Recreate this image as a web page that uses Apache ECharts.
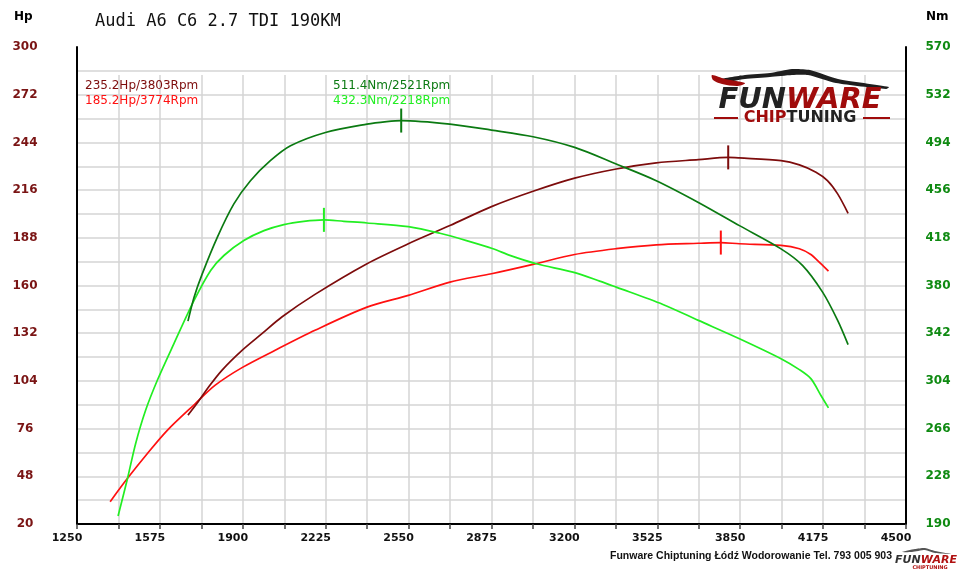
<!DOCTYPE html>
<html>
<head>
<meta charset="utf-8">
<title>Audi A6 C6 2.7 TDI 190KM</title>
<script src="https://cdn.jsdelivr.net/npm/echarts@6/dist/echarts.min.js"></script>
<style>
html, body { margin: 0; padding: 0; background: #fff; }
#chart { width: 960px; height: 575px; }
</style>
</head>
<body>
<div id="chart"></div>
<script>
// 坐标轴范围
const rpmMin = 1250, rpmMax = 4500, rpmStep = 162.5, rpmLabelStep = 325;
const hpMin = 20, hpMax = 300, hpStep = 14, hpLabelStep = 28;
const nmMin = 190, nmMax = 570, nmStep = 38;

// 功率 - 调校后 (Hp)
const rpmHpTuned = [1685, 1720, 1766, 1818, 1897, 1975, 2053, 2183, 2387, 2549, 2712, 2875, 3038, 3201, 3364, 3521, 3686, 3803, 3847, 4010, 4082, 4147, 4192, 4232, 4273];
const hpTuned = [83.9, 90.7, 100.4, 110.2, 121.9, 131.7, 141.5, 154.8, 172.8, 184.5, 195.2, 206.3, 215.3, 223, 228.4, 232, 233.9, 235.2, 234.9, 233.3, 230.8, 226.5, 221.6, 213.8, 202.4];

// 功率 - 原厂 (Hp)
const rpmHpStock = [1380, 1448, 1526, 1604, 1714, 1792, 1897, 2027, 2183, 2387, 2549, 2712, 2875, 3038, 3201, 3364, 3521, 3686, 3774, 3847, 4010, 4082, 4127, 4166, 4196];
const hpStock = [33.1, 46.8, 61.4, 75, 90.7, 101.5, 111.8, 122, 133.7, 147.3, 154.2, 162, 166.9, 172.4, 178.2, 181.6, 183.9, 184.8, 185.2, 184.5, 183.5, 181.6, 178.2, 172.8, 168.4];

// 扭矩 - 调校后 (Nm)
const rpmNmTuned = [1685, 1709, 1741, 1800, 1865, 1930, 2008, 2087, 2224, 2387, 2464, 2521, 2712, 2875, 3038, 3201, 3364, 3521, 3686, 3847, 4010, 4095, 4173, 4232, 4273];
const nmTuned = [351.6, 370.7, 389.3, 418.4, 445, 463.5, 479.4, 491.3, 501.9, 508.6, 510.6, 511.4, 508.6, 503.8, 498.5, 490, 476.8, 463.5, 446.2, 427.7, 409.2, 395.9, 374.7, 352.2, 332.9];

// 扭矩 - 原厂 (Nm)
const rpmNmStock = [1411, 1448, 1480, 1519, 1565, 1630, 1709, 1774, 1826, 1904, 1983, 2061, 2139, 2218, 2296, 2387, 2549, 2673, 2777, 2881, 2947, 3051, 3194, 3299, 3364, 3547, 3686, 3847, 4010, 4082, 4127, 4166, 4196];
const nmStock = [196.4, 226.3, 254.2, 280.6, 304.5, 333.7, 368.1, 392, 403.9, 415.8, 423.7, 428.5, 431.1, 432.3, 431.1, 429.8, 426.9, 421.6, 415.8, 409.3, 404, 397.3, 390.6, 383.5, 378.7, 364.9, 352.2, 337.6, 321.7, 313, 305.8, 292.6, 282.5];

// 峰值 [rpm, 值]
const peakHpTuned = [3803, 235.2];
const peakHpStock = [3774, 185.2];
const peakNmTuned = [2521, 511.4];
const peakNmStock = [2218, 432.3];

const titleText = 'Audi A6 C6 2.7 TDI 190KM';
const footerText = 'Funware Chiptuning Łódź Wodorowanie Tel. 793 005 903';

const colDarkRed = '#7d0c0c';
const colRed = '#ff1010';
const colDarkGreen = '#0b7a12';
const colGreen = '#22ee22';

function lineSeries(name, rpm, vals, color, yAxisIndex, peak) {
    return {
        name: name,
        type: 'line',
        xAxisIndex: 0,
        yAxisIndex: yAxisIndex,
        data: rpm.map((r, i) => [r, vals[i]]),
        smooth: 0.3,
        symbol: 'none',
        lineStyle: { color: color, width: 1.7 },
        markPoint: {
            symbol: 'rect',
            symbolSize: [2, 24],
            silent: true,
            label: { show: false },
            itemStyle: { color: color },
            data: [{ coord: peak }]
        }
    };
}

function peakText(p, unit) {
    return p[1].toFixed(1) + unit + '/' + p[0] + 'Rpm';
}

const chart = echarts.init(document.getElementById('chart'));
const gridLine = { color: '#d5d5d5', width: 1.5 };
const font = 'DejaVu Sans';

chart.setOption({
    animation: false,
    backgroundColor: '#fff',
    grid: [
        { left: 77, right: 54, top: 47, bottom: 51 },
        { left: 77, right: 54, top: 75, bottom: 51 }
    ],
    xAxis: [
        {
            gridIndex: 0,
            type: 'value',
            min: rpmMin, max: rpmMax, interval: rpmStep,
            axisLine: { onZero: false, lineStyle: { color: '#000', width: 2 } },
            axisTick: { show: true, length: 5, lineStyle: { color: '#444', width: 1.5 } },
            axisLabel: {
                formatter: v => ((v - rpmMin) % rpmLabelStep === 0 ? String(v) : ''),
                color: '#111', fontFamily: font, fontWeight: 'bold', fontSize: 11,
                margin: 9, padding: [0, 20, 0, 0]
            },
            splitLine: { show: false }
        },
        {
            gridIndex: 1,
            type: 'value',
            min: rpmMin, max: rpmMax, interval: rpmStep,
            axisLine: { show: false },
            axisTick: { show: false },
            axisLabel: { show: false },
            splitLine: { show: true, showMinLine: false, showMaxLine: false, lineStyle: gridLine }
        }
    ],
    yAxis: [
        {
            gridIndex: 0,
            type: 'value',
            position: 'left',
            min: hpMin, max: hpMax, interval: hpStep,
            axisLine: { show: true, lineStyle: { color: '#000', width: 2 } },
            axisTick: { show: false },
            axisLabel: {
                formatter: v => ((v - hpMin) % hpLabelStep === 0 ? String(v) : ''),
                color: '#7a1414', fontFamily: font, fontWeight: 'bold', fontSize: 12,
                margin: 52, align: 'center'
            },
            splitLine: { show: true, showMinLine: false, showMaxLine: false, lineStyle: gridLine }
        },
        {
            gridIndex: 0,
            type: 'value',
            position: 'right',
            min: nmMin, max: nmMax, interval: nmStep,
            axisLine: { show: true, lineStyle: { color: '#000', width: 2 } },
            axisTick: { show: false },
            axisLabel: {
                color: '#0f8a12', fontFamily: font, fontWeight: 'bold', fontSize: 12,
                margin: 32, align: 'center'
            },
            splitLine: { show: false }
        },
        { gridIndex: 1, type: 'value', show: false, min: 0, max: 1 }
    ],
    series: [
        lineSeries('Hp stock', rpmHpStock, hpStock, colRed, 0, peakHpStock),
        lineSeries('Hp tuned', rpmHpTuned, hpTuned, colDarkRed, 0, peakHpTuned),
        lineSeries('Nm stock', rpmNmStock, nmStock, colGreen, 1, peakNmStock),
        lineSeries('Nm tuned', rpmNmTuned, nmTuned, colDarkGreen, 1, peakNmTuned)
    ],
    graphic: [
        { type: 'text', z: 10, left: 14, top: 11, style: { text: 'Hp', fill: '#000', font: 'bold 12px ' + font } },
        { type: 'text', z: 10, left: 926, top: 11, style: { text: 'Nm', fill: '#000', font: 'bold 12px ' + font } },
        { type: 'text', z: 10, x: 95, y: 22, style: { text: titleText, fill: '#111', font: '17px "DejaVu Sans Mono"', textVerticalAlign: 'middle' } },
        { type: 'text', z: 10, x: 85, y: 86, style: { text: peakText(peakHpTuned, 'Hp'), fill: colDarkRed, font: '12px ' + font, textVerticalAlign: 'middle' } },
        { type: 'text', z: 10, x: 85, y: 101, style: { text: peakText(peakHpStock, 'Hp'), fill: colRed, font: '12px ' + font, textVerticalAlign: 'middle' } },
        { type: 'text', z: 10, x: 333, y: 86, style: { text: peakText(peakNmTuned, 'Nm'), fill: colDarkGreen, font: '12px ' + font, textVerticalAlign: 'middle' } },
        { type: 'text', z: 10, x: 333, y: 101, style: { text: peakText(peakNmStock, 'Nm'), fill: colGreen, font: '12px ' + font, textVerticalAlign: 'middle' } },
        // 标志
        {
            type: 'polygon', z: 10,
            shape: { points: [[716, 80], [745, 75], [770, 73], [792, 69], [810, 70], [838, 79], [889, 87], [886, 89], [836, 83], [808, 75], [792, 75], [770, 77], [745, 79], [720, 83]], smooth: 0.2 },
            style: { fill: '#1e1e1e' }
        },
        {
            type: 'polygon', z: 10,
            shape: { points: [[712, 75], [725, 79], [745, 83], [738, 86], [722, 84], [713, 80]], smooth: 0.3 },
            style: { fill: '#a00c0c' }
        },
        {
            type: 'text', z: 10, x: 800, y: 100,
            style: {
                text: '{a|FUN}{b|WARE}', textAlign: 'center', textVerticalAlign: 'middle',
                rich: {
                    a: { fill: '#222', font: 'italic bold 29px ' + font },
                    b: { fill: '#a00c0c', font: 'italic bold 29px ' + font }
                }
            }
        },
        {
            type: 'text', z: 10, x: 800, y: 118,
            style: {
                text: '{b|CHIP}{a|TUNING}', textAlign: 'center', textVerticalAlign: 'middle',
                rich: {
                    a: { fill: '#222', font: 'bold 16px ' + font },
                    b: { fill: '#a00c0c', font: 'bold 16px ' + font }
                }
            }
        },
        { type: 'line', z: 10, shape: { x1: 714, y1: 118, x2: 738, y2: 118 }, style: { stroke: '#a00c0c', lineWidth: 2 } },
        { type: 'line', z: 10, shape: { x1: 863, y1: 118, x2: 890, y2: 118 }, style: { stroke: '#a00c0c', lineWidth: 2 } },
        // 底部
        { type: 'text', z: 10, x: 892, y: 556, style: { text: footerText, fill: '#111', font: 'bold 10.5px "Liberation Sans"', textAlign: 'right', textVerticalAlign: 'middle' } },
        {
            type: 'polygon', z: 10,
            shape: { points: [[902, 552], [915, 549], [925, 548], [935, 551], [951, 554], [935, 553], [925, 550], [912, 552]], smooth: 0.2 },
            style: { fill: '#555' }
        },
        {
            type: 'text', z: 10, x: 926, y: 560,
            style: {
                text: '{a|FUN}{b|WARE}', textAlign: 'center', textVerticalAlign: 'middle',
                rich: {
                    a: { fill: '#333', font: 'italic bold 11px ' + font },
                    b: { fill: '#b01010', font: 'italic bold 11px ' + font }
                }
            }
        },
        { type: 'text', z: 10, x: 930, y: 568, style: { text: 'CHIPTUNING', fill: '#b01010', font: 'bold 5px ' + font, textAlign: 'center', textVerticalAlign: 'middle' } }
    ]
});
</script>
</body>
</html>
